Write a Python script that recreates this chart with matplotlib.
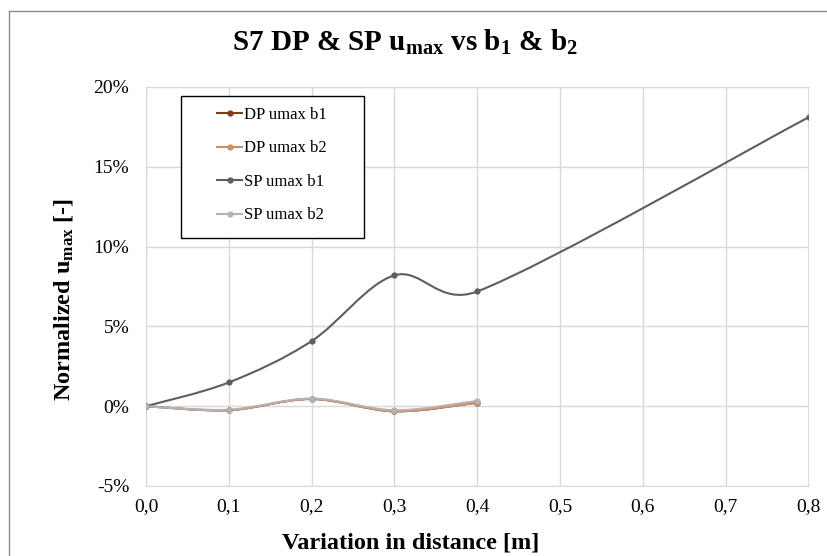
"""S7 DP & SP umax vs b1 & b2."""

import numpy as np
import matplotlib
matplotlib.use("Agg")
import matplotlib.pyplot as plt
from matplotlib.path import Path
from matplotlib.patches import PathPatch, Rectangle
from matplotlib.lines import Line2D
from matplotlib.ticker import FuncFormatter, MultipleLocator

plt.rcParams['font.family'] = ['Liberation Serif', 'DejaVu Serif']
plt.rcParams['mathtext.fontset'] = 'custom'
plt.rcParams['mathtext.rm'] = 'Liberation Serif:bold'
plt.rcParams['mathtext.it'] = 'Liberation Serif:bold'
plt.rcParams['mathtext.bf'] = 'Liberation Serif:bold'
plt.rcParams['axes.unicode_minus'] = False

# data (fraction of umax)
x_short = [0.0, 0.1, 0.2, 0.3, 0.4]
x_long = [0.0, 0.1, 0.2, 0.3, 0.4, 0.8]
dp_b1 = [0.0, -0.0025, 0.0045, -0.0032, 0.0022]
dp_b2 = [0.0, -0.0025, 0.0045, -0.0032, 0.0022]
sp_b1 = [0.0, 0.0149, 0.0408, 0.0820, 0.0719, 0.1810]
sp_b2 = [0.0, -0.0022, 0.0048, -0.0025, 0.0033]

labels = ["DP umax b1", "DP umax b2", "SP umax b1", "SP umax b2"]
colors = ["#843C0C", "#D08B68", "#5E5E5E", "#B3B3B3"]
series = [(x_short, dp_b1), (x_short, dp_b2), (x_long, sp_b1), (x_short, sp_b2)]


def smooth_path(ax, x, y):
    # Excel-like smoothed line: Bezier through the points, control arms
    # limited to half the segment length (worked out in screen space)
    pts = ax.transData.transform(np.column_stack([x, y]))
    n = len(pts)
    verts = [pts[0]]
    codes = [Path.MOVETO]
    for i in range(n - 1):
        p0 = pts[i - 1] if i > 0 else pts[i]
        p1 = pts[i]
        p2 = pts[i + 1]
        p3 = pts[i + 2] if i + 2 < n else pts[i + 1]
        half = np.hypot(*(p2 - p1)) / 2
        v1 = (p2 - p0) / 6
        v2 = (p3 - p1) / 6
        if np.hypot(*v1) > half:
            v1 = v1 * half / np.hypot(*v1)
        if np.hypot(*v2) > half:
            v2 = v2 * half / np.hypot(*v2)
        verts += [p1 + v1, p2 - v2, p2]
        codes += [Path.CURVE4] * 3
    verts = ax.transData.inverted().transform(np.array(verts))
    return Path(verts, codes)


fig = plt.figure(figsize=(8.28, 5.56), dpi=100)
ax = fig.add_axes([146 / 828, 1 - 486 / 556, 662.5 / 828, 399 / 556])
ax.set_xlim(0, 0.8)
ax.set_ylim(-0.05, 0.20)

handles = []
for (xs, ys), c, lab in zip(series, colors, labels):
    ax.add_patch(PathPatch(smooth_path(ax, xs, ys), fill=False, edgecolor=c,
                           lw=1.5, zorder=3))
    ax.plot(xs, ys, 'o', color=c, markersize=3.5, zorder=4)
    handles.append(Line2D([], [], color=c, lw=1.5, marker='o',
                          markersize=3.5, label=lab))

ax.xaxis.set_major_locator(MultipleLocator(0.1))
ax.yaxis.set_major_locator(MultipleLocator(0.05))
ax.xaxis.set_major_formatter(FuncFormatter(lambda v, p: f"{v:.1f}".replace('.', ',')))
ax.yaxis.set_major_formatter(FuncFormatter(lambda v, p: f"{v * 100:.0f}%"))
ax.grid(True, color="#D9D9D9", lw=1)
ax.set_axisbelow(True)
for s in ax.spines.values():
    s.set_color("#D9D9D9")
ax.tick_params(length=0, labelsize=14)
ax.tick_params(axis='x', pad=9)
ax.tick_params(axis='y', pad=12)

# legend box
ax.add_patch(Rectangle((35 / 662.5, 248 / 399), 183 / 662.5, 142 / 399,
                       transform=ax.transAxes, facecolor="white",
                       edgecolor="black", lw=1, zorder=5))
leg = ax.legend(handles=handles, loc='center', bbox_to_anchor=(0.19, 0.804),
                frameon=False, fontsize=12, handlelength=1.5,
                handletextpad=0.1, labelspacing=1.05)
leg.set_zorder(6)

fig.text(405 / 828, 1 - 51 / 556, r"S7 DP & SP u$_{max}$ vs b$_{1}$ & b$_{2}$",
         ha='center', va='baseline', fontsize=21, fontweight='bold')
fig.text(411 / 828, 1 - 549 / 556, "Variation in distance [m]", ha='center',
         va='baseline', fontsize=17.5, fontweight='bold')
fig.text(64 / 828, 1 - 299 / 556, r"Normalized u$_{max}$ [-]",
         ha='center', va='center', rotation=90, fontsize=17.5,
         fontweight='bold')

# chart border
fig.add_artist(Line2D([9 / 828, 9 / 828], [0, 1 - 11 / 556],
                      transform=fig.transFigure, color="#8C8C8C", lw=1))
fig.add_artist(Line2D([9 / 828, 1], [1 - 11 / 556, 1 - 11 / 556],
                      transform=fig.transFigure, color="#8C8C8C", lw=1))

fig.savefig("out.png", dpi=100)
